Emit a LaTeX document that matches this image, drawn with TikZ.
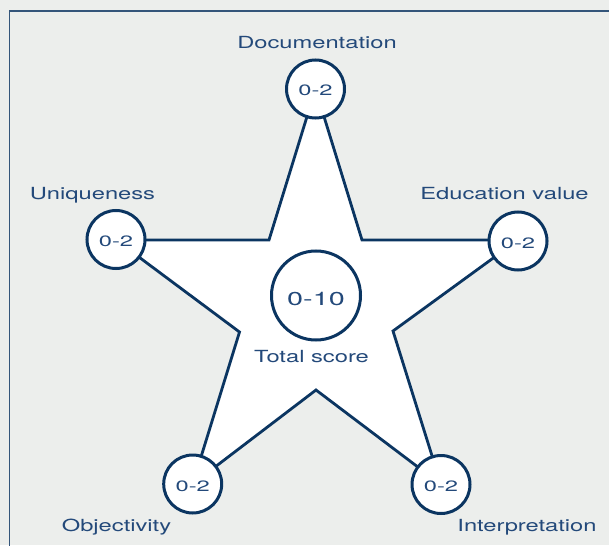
\documentclass[tikz,border=0pt]{standalone}
\usepackage{fontspec}
\setmainfont{TeX Gyre Heros}
\newfontfamily\labfont[FakeStretch=1.42]{TeX Gyre Heros}
\newfontfamily\numfont[FakeStretch=1.58]{TeX Gyre Heros}
\newfontfamily\bignumfont[FakeStretch=1.54]{TeX Gyre Heros}
\definecolor{bg}{HTML}{ECEEEC}
\definecolor{navy}{HTML}{0B3561}
\definecolor{txt}{HTML}{23497A}
\definecolor{framec}{HTML}{34557A}
\tikzset{
  starline/.style={draw=navy, line width=2.8pt, fill=white, line join=miter},
  frameline/.style={draw=framec, line width=1.3pt},
  score/.style={circle, draw=navy, line width=3pt, fill=white, minimum size=58pt, inner sep=0pt,
    text=txt, font=\numfont\fontsize{15pt}{15pt}\selectfont, text height=14pt, text depth=0pt},
  total/.style={circle, draw=navy, line width=3pt, fill=white, minimum size=89pt, inner sep=0pt,
    text=txt, font=\bignumfont\fontsize{18.7pt}{18.7pt}\selectfont, text height=19pt, text depth=0pt},
  lab/.style={anchor=base, inner sep=0pt, text=txt, font=\labfont\fontsize{16.7pt}{16.7pt}\selectfont}
}
\begin{document}
\begin{tikzpicture}[x=1pt,y=-1pt]
\fill[bg] (0,0) rectangle (609,545);
\useasboundingbox (0,0) rectangle (609,545);
\draw[frameline] (9.8,546) -- (9.8,11) -- (610,11);

\coordinate (pT) at (315.5,89);
\coordinate (pR) at (518,240);
\coordinate (pBR) at (441,484.5);
\coordinate (pBL) at (192.7,484);
\coordinate (pL) at (116,240);
\coordinate (iTR) at (362,240);
\coordinate (iR) at (393,331);
\coordinate (iB) at (316,390);
\coordinate (iL) at (239.5,332);
\coordinate (iTL) at (269,240);

\draw[starline] (pT) -- (iTR) -- (pR) -- (iR) -- (pBR) -- (iB) -- (pBL) -- (iL) -- (pL) -- (iTL) -- cycle;

\node[score] (cT) at (pT) {0-2};
\node[score] (cR) at (518,241) {0-2};
\node[score] (cBR) at (pBR) {0-2};
\node[score] (cBL) at (pBL) {0-2};
\node[score] (cL) at (116,239.5) {0-2};
\node[total] (cC) at (316,295.5) {0-10};

\node[lab] (lT) at (317,49) {Documentation};
\node[lab] (lL) at (92.5,199.3) {Uniqueness};
\node[lab] (lR) at (504.5,200) {Education value};
\node[lab] (lBL) at (116.5,531) {Objectivity};
\node[lab] (lBR) at (527,531) {Interpretation};
\node[lab] (lC) at (311.5,362) {Total score};
\end{tikzpicture}
\end{document}
